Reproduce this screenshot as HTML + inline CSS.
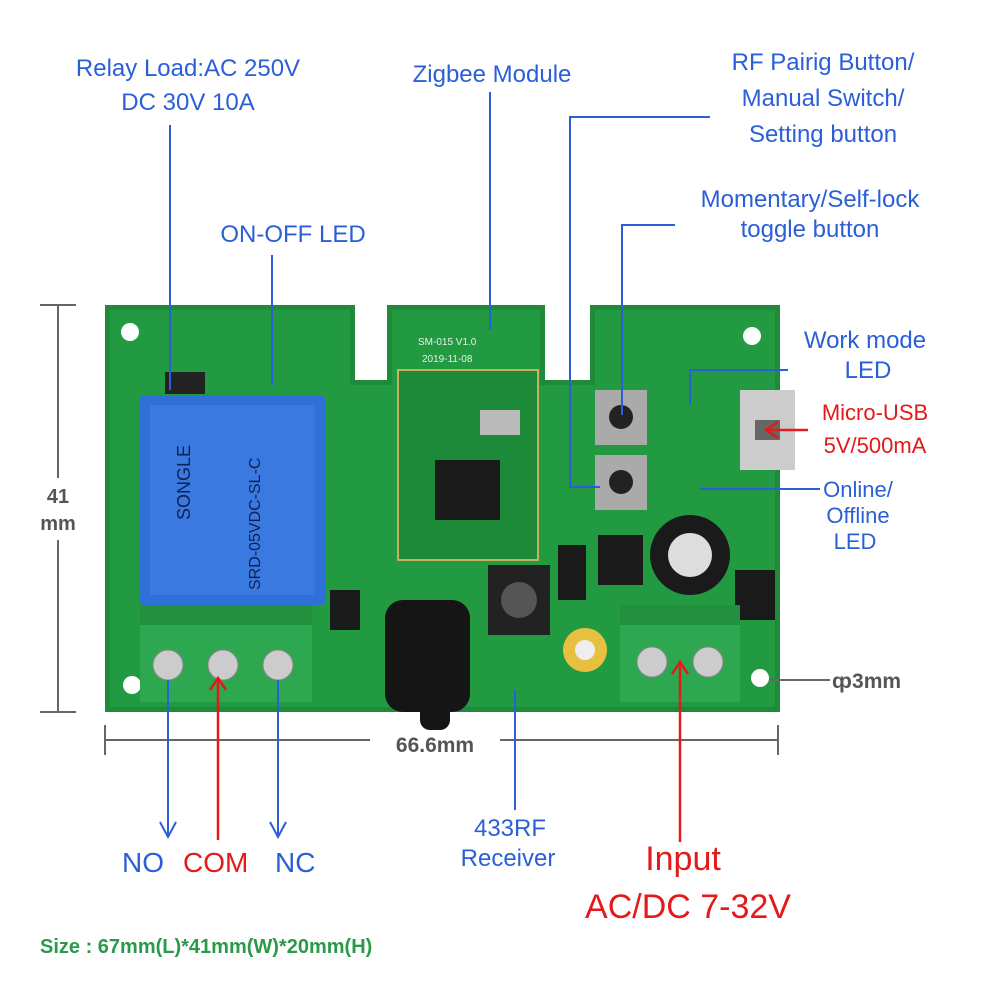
<!DOCTYPE html>
<html><head><meta charset="utf-8"><style>
html,body{margin:0;padding:0;background:#fff;}
svg{display:block;}
text{font-family:"Liberation Sans",sans-serif;}
</style></head><body>
<svg width="1000" height="994" viewBox="0 0 1000 994" xmlns="http://www.w3.org/2000/svg">
<!-- PCB -->
<path d="M105,305 H355 V380 H387 V305 H545 V380 H590 V305 H780 V712 H105 Z" fill="#1e8a3a"/>
<path d="M110,310 H350 V385 H392 V310 H540 V385 H595 V310 H775 V707 H110 Z" fill="#229a42"/>
<circle cx="130" cy="332" r="9" fill="#fff"/><circle cx="752" cy="336" r="9" fill="#fff"/><circle cx="132" cy="685" r="9" fill="#fff"/><circle cx="760" cy="678" r="9" fill="#fff"/>
<!-- zigbee module -->
<rect x="398" y="370" width="140" height="190" fill="#1c8a38" stroke="#c8b060" stroke-width="2"/>
<text x="418" y="345" font-size="10" fill="#e8f0e8" font-family="Liberation Mono">SM-015 V1.0</text>
<text x="422" y="362" font-size="10" fill="#e8f0e8" font-family="Liberation Mono">2019-11-08</text>
<rect x="435" y="460" width="65" height="60" fill="#1a1a1a"/>
<rect x="480" y="410" width="40" height="25" fill="#bbb"/>
<!-- relay -->
<rect x="140" y="395" width="185" height="210" rx="4" fill="#2f6fd8"/>
<rect x="150" y="405" width="165" height="190" fill="#3a7ae0"/>
<text x="0" y="0" font-size="16" fill="#102050" transform="translate(260,590) rotate(-90)">SRD-05VDC-SL-C</text>
<text x="0" y="0" font-size="18" fill="#102050" transform="translate(190,520) rotate(-90)">SONGLE</text>
<rect x="165" y="372" width="40" height="22" fill="#222"/>
<!-- chips -->
<rect x="595" y="390" width="52" height="55" fill="#aaa"/><circle cx="621" cy="417" r="12" fill="#222"/>
<rect x="595" y="455" width="52" height="55" fill="#aaa"/><circle cx="621" cy="482" r="12" fill="#222"/>
<rect x="740" y="390" width="55" height="80" fill="#ccc"/><rect x="755" y="420" width="25" height="20" fill="#666"/>
<rect x="598" y="535" width="45" height="50" fill="#1a1a1a"/>
<rect x="558" y="545" width="28" height="55" fill="#1a1a1a"/>
<circle cx="690" cy="555" r="40" fill="#1a1a1a"/><circle cx="690" cy="555" r="22" fill="#ddd"/>
<rect x="735" y="570" width="40" height="50" fill="#1a1a1a"/>
<rect x="488" y="565" width="62" height="70" fill="#222"/><circle cx="519" cy="600" r="18" fill="#555"/>
<circle cx="585" cy="650" r="22" fill="#e8c040"/><circle cx="585" cy="650" r="10" fill="#eee"/>
<rect x="330" y="590" width="30" height="40" fill="#1a1a1a"/>
<!-- antenna -->
<rect x="385" y="600" width="85" height="112" rx="18" fill="#151515"/>
<rect x="420" y="690" width="30" height="40" rx="10" fill="#151515"/>
<!-- terminals -->
<rect x="140" y="605" width="172" height="97" fill="#2ea850"/>
<rect x="140" y="605" width="172" height="20" fill="#23903f"/>
<circle cx="168" cy="665" r="15" fill="#ccc" stroke="#888"/><circle cx="223" cy="665" r="15" fill="#ccc" stroke="#888"/><circle cx="278" cy="665" r="15" fill="#ccc" stroke="#888"/>
<rect x="620" y="605" width="120" height="97" fill="#2ea850"/>
<rect x="620" y="605" width="120" height="20" fill="#23903f"/>
<circle cx="652" cy="662" r="15" fill="#ccc" stroke="#888"/><circle cx="708" cy="662" r="15" fill="#ccc" stroke="#888"/>
<!-- dimension lines -->
<g stroke="#666" stroke-width="2" fill="none">
<line x1="58" y1="305" x2="58" y2="712"/><line x1="40" y1="305" x2="76" y2="305"/><line x1="40" y1="712" x2="76" y2="712"/>
<line x1="105" y1="740" x2="778" y2="740"/><line x1="105" y1="725" x2="105" y2="755"/><line x1="778" y1="725" x2="778" y2="755"/>
<line x1="770" y1="680" x2="830" y2="680"/>
</g>
<rect x="30" y="478" width="56" height="62" fill="#fff"/>
<text x="58" y="503" font-size="20" font-weight="bold" fill="#555" text-anchor="middle">41</text>
<text x="58" y="530" font-size="20" font-weight="bold" fill="#555" text-anchor="middle">mm</text>
<rect x="370" y="730" width="130" height="22" fill="#fff"/>
<text x="435" y="752" font-size="21" font-weight="bold" fill="#555" text-anchor="middle">66.6mm</text>
<text x="832" y="688" font-size="21" font-weight="bold" fill="#555">ȹ3mm</text>
<!-- blue leader lines -->
<g stroke="#2a5fd8" stroke-width="2" fill="none">
<line x1="170" y1="125" x2="170" y2="390"/>
<line x1="272" y1="255" x2="272" y2="385"/>
<line x1="490" y1="92" x2="490" y2="330"/>
<polyline points="710,117 570,117 570,487 600,487"/>
<polyline points="675,225 622,225 622,415"/>
<polyline points="788,370 690,370 690,405"/>
<line x1="820" y1="489" x2="700" y2="489"/>
<line x1="168" y1="680" x2="168" y2="836"/><polyline points="160,822 168,837 176,822"/>
<line x1="278" y1="680" x2="278" y2="836"/><polyline points="270,822 278,837 286,822"/>
<line x1="515" y1="690" x2="515" y2="810"/>
</g>
<!-- red arrows -->
<g stroke="#e21a1a" stroke-width="2.5" fill="none">
<line x1="218" y1="680" x2="218" y2="840"/><polyline points="210,690 218,678 226,690"/>
<line x1="680" y1="842" x2="680" y2="662"/><polyline points="672,674 680,662 688,674"/>
<line x1="808" y1="430" x2="766" y2="430"/><polyline points="778,422 766,430 778,438"/>
</g>
<!-- labels -->
<g fill="#2a5fd8" font-size="24">
<text x="188" y="76" text-anchor="middle">Relay Load:AC 250V</text>
<text x="188" y="110" text-anchor="middle">DC 30V 10A</text>
<text x="492" y="82" text-anchor="middle">Zigbee Module</text>
<text x="293" y="242" text-anchor="middle">ON-OFF LED</text>
<text x="823" y="70" text-anchor="middle">RF Pairig Button/</text>
<text x="823" y="106" text-anchor="middle">Manual Switch/</text>
<text x="823" y="142" text-anchor="middle">Setting button</text>
<text x="810" y="207" text-anchor="middle">Momentary/Self-lock</text>
<text x="810" y="237" text-anchor="middle">toggle button</text>
<text x="865" y="348" text-anchor="middle">Work mode</text>
<text x="868" y="378" text-anchor="middle">LED</text>
<text x="858" y="497" text-anchor="middle" font-size="22">Online/</text>
<text x="858" y="523" text-anchor="middle" font-size="22">Offline</text>
<text x="855" y="549" text-anchor="middle" font-size="22">LED</text>
<text x="510" y="836" text-anchor="middle">433RF</text>
<text x="508" y="866" text-anchor="middle">Receiver</text>
<text x="122" y="872" font-size="28">NO</text>
<text x="275" y="872" font-size="28">NC</text>
</g>
<g fill="#e21a1a">
<text x="875" y="420" font-size="22" text-anchor="middle">Micro-USB</text>
<text x="875" y="453" font-size="22" text-anchor="middle">5V/500mA</text>
<text x="183" y="872" font-size="28">COM</text>
<text x="683" y="870" font-size="34" text-anchor="middle">Input</text>
<text x="688" y="918" font-size="34" text-anchor="middle">AC/DC 7-32V</text>
</g>
<text x="40" y="953" font-size="20" font-weight="bold" fill="#2a9a4a">Size : 67mm(L)*41mm(W)*20mm(H)</text>
</svg>
</body></html>
